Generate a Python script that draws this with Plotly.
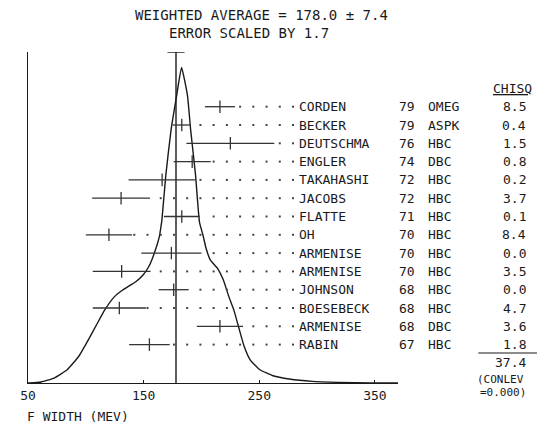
import plotly.graph_objects as go

# ---------------- data ----------------
names = ["CORDEN", "BECKER", "DEUTSCHMA", "ENGLER", "TAKAHASHI", "JACOBS", "FLATTE",
         "OH", "ARMENISE", "ARMENISE", "JOHNSON", "BOESEBECK", "ARMENISE", "RABIN"]
years = ["79", "79", "76", "74", "72", "72", "71", "70", "70", "70", "68", "68", "68", "67"]
techs = ["OMEG", "ASPK", "HBC", "DBC", "HBC", "HBC", "HBC", "HBC", "HBC", "HBC",
         "HBC", "HBC", "DBC", "HBC"]
chisq = ["8.5", "0.4", "1.5", "0.8", "0.2", "3.7", "0.1", "8.4", "0.0", "3.5",
         "0.0", "4.7", "3.6", "1.8"]
values = [216, 183, 225, 192, 166, 130.5, 183, 120, 174, 131, 176, 129, 216, 155]
errors = [13, 8, 38, 16, 29, 25, 15.5, 20, 26, 25, 13, 23, 20, 17.5]

wavg = 178.0
werr = 7.4
scale_factor = "1.7"
chisq_total = "37.4"
conlev = "0.000"

# ideogram curve (MeV, relative height)
curve_x = [50.0, 51.4, 61.3, 72.6, 83.9, 93.8, 102.3, 109.3, 116.4, 124.8, 131.9,
           143.2, 149.7, 154.5, 158.7, 163.6, 164.8, 165.8, 169.2, 173.7, 178.6,
           182.8, 187.9, 190.7, 194.9, 198.3, 201.3, 204.0, 207.6, 213.8, 218.9,
           223.7, 228.0, 232.8, 237.0, 242.1, 250.6, 261.9, 276.0, 295.8, 318.4,
           346.6, 370.0]
curve_y = [0.0, 0.0, 0.003, 0.015, 0.040, 0.080, 0.131, 0.176, 0.221, 0.261, 0.281,
           0.306, 0.327, 0.352, 0.387, 0.442, 0.468, 0.492, 0.628, 0.764, 0.869,
           0.953, 0.869, 0.764, 0.628, 0.486, 0.447, 0.407, 0.372, 0.347, 0.312,
           0.261, 0.221, 0.161, 0.110, 0.070, 0.040, 0.022, 0.012, 0.005, 0.002,
           0.0, 0.0]

x_ticks = [50, 150, 250, 350]
x_title = "F WIDTH (MEV)"

# ---------------- style ----------------
FONT = "DejaVu Sans Mono"
INK = "#1a1a1a"
BAR = "#333333"
LEAD_END = 279.2      # MeV position of the dot before each label
LEAD_STEP = 11.44     # spacing of the leader dots (MeV)

# the page body has an 8px margin; layout below is expressed in window pixels
BODY = 8
PLOT_L, PLOT_R, PLOT_T, PLOT_B = 20, 398, 52, 383

rows = list(range(len(names)))

fig = go.Figure()

# ideogram
fig.add_trace(go.Scatter(
    x=curve_x, y=curve_y, mode="lines",
    line=dict(color=INK, width=1.4, shape="spline", smoothing=0.4),
    hoverinfo="skip", showlegend=False))

# weighted average line with error cap
fig.add_trace(go.Scatter(
    x=[wavg, wavg], y=[0, 1], mode="lines",
    line=dict(color=INK, width=1.4), hoverinfo="skip", showlegend=False))
fig.add_trace(go.Scatter(
    x=[wavg - werr, wavg + werr], y=[1, 1], mode="lines",
    line=dict(color=INK, width=1.4), hoverinfo="skip", showlegend=False))

# leader dots
lx, ly = [], []
for i, (v, e) in enumerate(zip(values, errors)):
    k = 0
    while True:
        xx = LEAD_END - k * LEAD_STEP
        if xx <= v + e + 1:
            break
        lx.append(xx)
        ly.append(i)
        k += 1
fig.add_trace(go.Scatter(
    x=lx, y=ly, yaxis="y2", mode="markers",
    marker=dict(symbol="square", size=2, color="#444444", line=dict(width=0)),
    hoverinfo="skip", showlegend=False))

# measurements
fig.add_trace(go.Scatter(
    x=values, y=rows, yaxis="y2", mode="markers",
    marker=dict(symbol="line-ns", size=9, color=BAR, line=dict(width=1.3, color=BAR)),
    error_x=dict(type="data", array=errors, width=0, thickness=1.3, color=BAR),
    showlegend=False))

# ---------------- annotations ----------------
ann = []
tf = dict(family=FONT, size=13, color=INK)
small = dict(family=FONT, size=11, color=INK)


def px2paper_x(px):
    return (px - PLOT_L) / float(PLOT_R - PLOT_L)


def px2paper_y(py):
    return (PLOT_B - py) / float(PLOT_B - PLOT_T)


for i in rows:
    ann.append(dict(x=px2paper_x(295), y=i, xref="paper", yref="y2", text=names[i],
                    showarrow=False, xanchor="left", yanchor="middle", font=tf))
    ann.append(dict(x=px2paper_x(397), y=i, xref="paper", yref="y2", text=years[i],
                    showarrow=False, xanchor="left", yanchor="middle", font=tf))
    ann.append(dict(x=px2paper_x(427), y=i, xref="paper", yref="y2", text=techs[i],
                    showarrow=False, xanchor="left", yanchor="middle", font=tf))
    ann.append(dict(x=px2paper_x(531), y=i, xref="paper", yref="y2", text=chisq[i],
                    showarrow=False, xanchor="right", yanchor="middle", font=tf))

ann.append(dict(x=px2paper_x(515), y=-1, xref="paper", yref="y2", text="<u>CHISQ</u>",
                showarrow=False, xanchor="center", yanchor="middle", font=tf))
ann.append(dict(x=px2paper_x(531), y=len(names), xref="paper", yref="y2", text=chisq_total,
                showarrow=False, xanchor="right", yanchor="middle", font=tf))
ann.append(dict(x=px2paper_x(477), y=px2paper_y(379), xref="paper", yref="paper",
                text="(CONLEV", showarrow=False, xanchor="left", yanchor="middle",
                font=small))
ann.append(dict(x=px2paper_x(480), y=px2paper_y(392), xref="paper", yref="paper",
                text="=" + conlev + ")", showarrow=False, xanchor="left", yanchor="middle",
                font=small))

title_font = dict(family=FONT, size=14, color=INK)
ann.append(dict(x=px2paper_x(259), y=px2paper_y(15), xref="paper", yref="paper",
                text="WEIGHTED AVERAGE = %.1f ± %.1f" % (wavg, werr), showarrow=False,
                xanchor="center", yanchor="middle", font=title_font))
ann.append(dict(x=px2paper_x(246), y=px2paper_y(33), xref="paper", yref="paper",
                text="ERROR SCALED BY " + scale_factor, showarrow=False,
                xanchor="center", yanchor="middle", font=title_font))
ann.append(dict(x=px2paper_x(17), y=px2paper_y(416), xref="paper", yref="paper",
                text=x_title, showarrow=False, xanchor="left", yanchor="middle", font=tf))

# underline under the last chi-square value
shapes = [dict(type="line", xref="paper", yref="y2",
               x0=px2paper_x(480), x1=px2paper_x(540),
               y0=len(names) - 0.54, y1=len(names) - 0.54,
               line=dict(color=INK, width=1.1))]

W, H = 547 - BODY, 427 - BODY
fig.update_layout(
    width=W, height=H, autosize=False,
    margin=dict(l=PLOT_L - BODY, r=W - (PLOT_R - BODY), t=PLOT_T - BODY,
                b=H - (PLOT_B - BODY), pad=0),
    paper_bgcolor="white", plot_bgcolor="white",
    showlegend=False,
    annotations=ann, shapes=shapes,
    xaxis=dict(range=[50, 370], tickvals=x_ticks, ticktext=[str(t) for t in x_ticks],
               showline=True, linecolor=INK, linewidth=1.2, ticks="inside", ticklen=3,
               tickcolor=INK, showgrid=False, zeroline=False,
               tickfont=dict(family=FONT, size=13, color=INK)),
    yaxis=dict(range=[0, 1], showline=True, linecolor=INK, linewidth=1.4,
               showticklabels=False, ticks="", showgrid=False, zeroline=False),
    yaxis2=dict(range=[15.098, -2.989], overlaying="y", visible=False,
                showgrid=False, zeroline=False),
)

fig.write_html("out.html")
